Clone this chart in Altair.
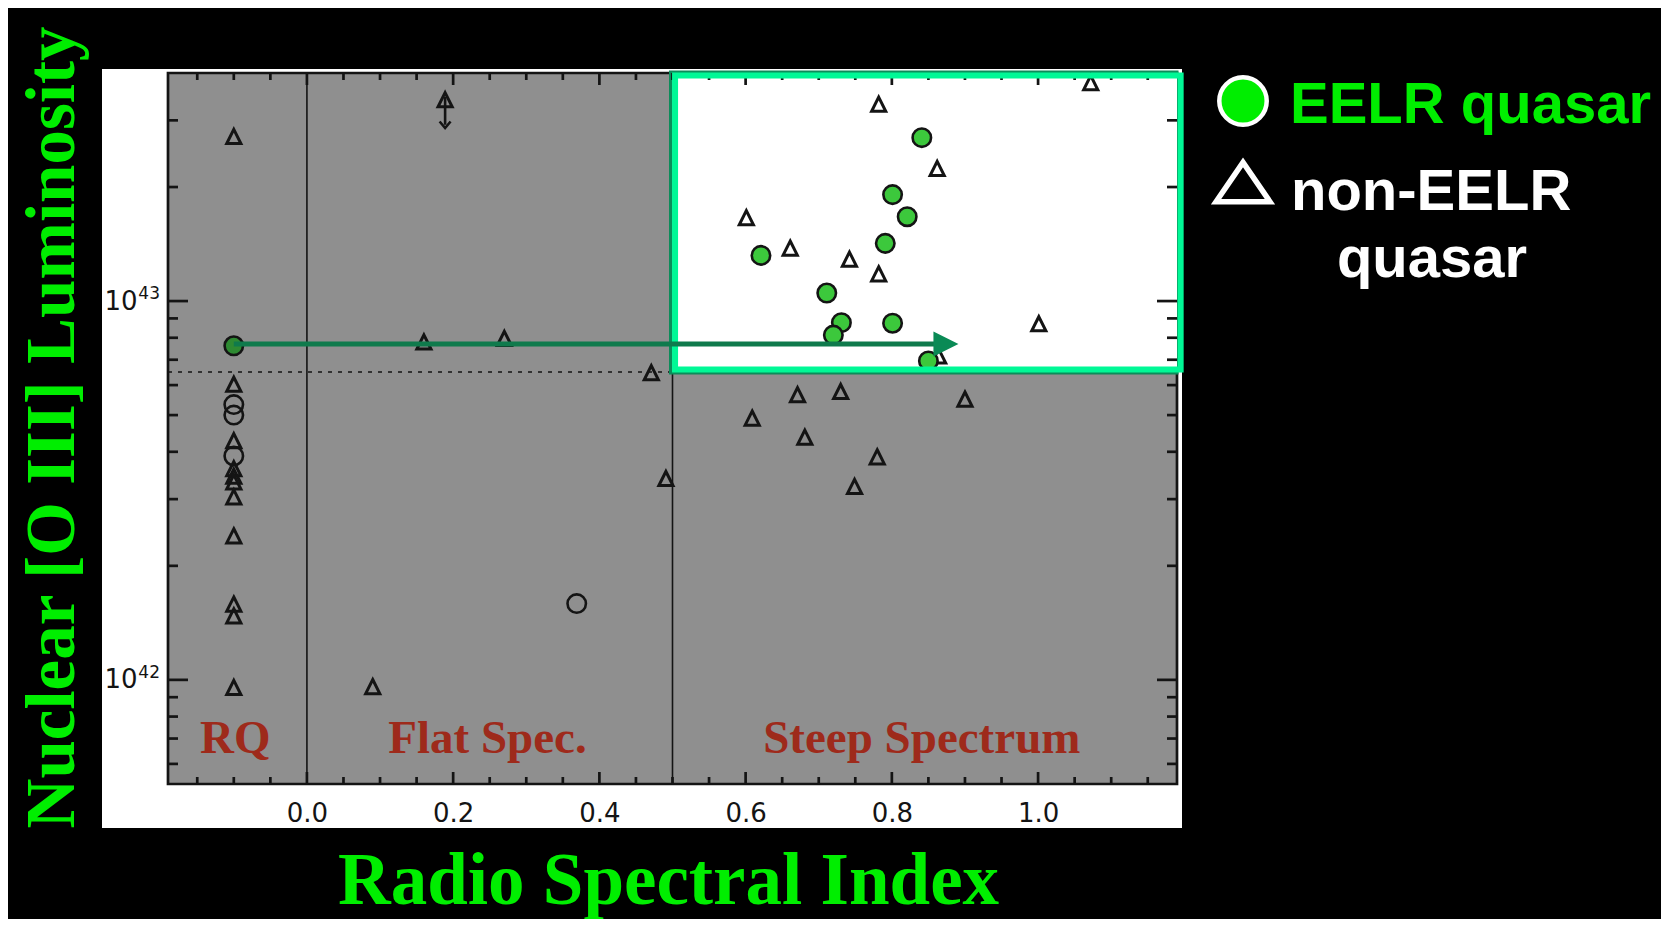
import altair as alt
import pandas as pd

# ---------------- data ----------------
# Radio-quiet column (plotted at alpha = -0.1)
rq_x = -0.1
rq_tri_y = [2.72e43, 6.03e42, 4.28e42, 3.61e42, 3.45e42, 3.33e42, 3.04e42,
            2.40e42, 1.585e42, 1.476e42, 9.55e41]
rq_circ_y = [5.33e42, 5.0e42, 3.9e42]
rq_eelr_y = [7.62e42]

# Flat-spectrum objects
flat_tri_x = [0.189, 0.16, 0.27, 0.471, 0.491, 0.09]
flat_tri_y = [3.40e43, 7.8e42, 7.97e42, 6.47e42, 3.40e42, 9.6e41]
flat_circ_x = [0.369]
flat_circ_y = [1.59e42]

# Steep-spectrum non-EELR quasars
steep_tri_x = [1.072, 0.782, 0.862, 0.601, 0.661, 0.742, 0.782, 1.001, 0.864,
               0.609, 0.671, 0.730, 0.681, 0.780, 0.749, 0.900]
steep_tri_y = [3.77e43, 3.31e43, 2.24e43, 1.66e43, 1.38e43, 1.29e43, 1.18e43,
               8.71e42, 7.16e42, 4.91e42, 5.66e42, 5.77e42, 4.37e42, 3.88e42,
               3.24e42, 5.51e42]

# EELR quasars
eelr_x = [0.841, 0.801, 0.821, 0.791, 0.621, 0.711, 0.731, 0.801, 0.720, 0.850]
eelr_y = [2.70e43, 1.91e43, 1.67e43, 1.42e43, 1.32e43, 1.05e43, 8.77e42,
          8.74e42, 8.13e42, 6.95e42]

# upper/lower limit bar on one flat-spectrum source
limit_x = [0.189]
limit_top = [3.46e43]
limit_bottom = [2.92e43]

# region labels
region_names = ["RQ", "Flat Spec.", "Steep Spectrum"]
region_x = [-0.098, 0.247, 0.841]
region_y = [6.43e41, 6.43e41, 6.43e41]

# dividers, threshold, highlighted region, arrow
divider_x = [0.0, 0.5]
cut_y = 6.5e42
cut_x = [-0.19, 0.5]
box_x = [0.5, 1.19]
box_y = [6.5e42, 4.0e43]
border_x = [0.5035, 1.195]
border_y = [6.6e42, 3.94e43]
arrow_x = [-0.1, 0.86]
arrow_head_x = 0.874
arrow_y = 7.7e42

# axes
x_domain = [-0.19, 1.19]
y_domain = [5.31e41, 4.0e43]
x_major = [0.0, 0.2, 0.4, 0.6, 0.8, 1.0]
x_minor = [-0.15, -0.1, -0.05, 0.05, 0.1, 0.15, 0.25, 0.3, 0.35, 0.45, 0.5,
           0.55, 0.65, 0.7, 0.75, 0.85, 0.9, 0.95, 1.05, 1.1, 1.15]
y_major = [1e42, 1e43]
y_major_exp = ["42", "43"]
y_minor = [6e41, 7e41, 8e41, 9e41, 2e42, 3e42, 4e42, 5e42, 6e42, 7e42, 8e42,
           9e42, 2e43, 3e43]

# ---------------- layout / style ----------------
W, H = 1009, 711
GRAY = "#8f8f8f"
INK = "#141414"
GREEN = "#00ee00"
MINT = "#00f896"
DARKMINT = "#0c8c5a"
RED = "#9e2a1b"

xsc = alt.Scale(domain=x_domain, nice=False, zero=False)
ysc = alt.Scale(type="log", domain=y_domain, nice=False)

xax = alt.Axis(values=x_major, format=".1f", ticks=False, tickSize=0, domain=False,
               grid=False, zindex=2, labelFont="DejaVu Sans", labelFontSize=26,
               labelColor=INK, labelPadding=16, labelFlush=False,
               title="Radio Spectral Index", titleFont="Liberation Serif",
               titleFontSize=73, titleFontWeight="bold", titleColor=GREEN,
               titleX=500, titleY=119, titleBaseline="alphabetic",
               titleAlign="center")
yax = alt.Axis(values=y_major, labelExpr="'10'",
               ticks=False, tickSize=0, domain=False, grid=False, zindex=2,
               labelFont="DejaVu Sans", labelFontSize=26, labelColor=INK,
               labelPadding=31, labelBaseline="middle",
               title="Nuclear [O III] Luminosity", titleFont="Liberation Serif",
               titleFontSize=69, titleFontWeight="bold", titleColor=GREEN,
               titleAngle=270, titleX=-95, titleY=354,
               titleBaseline="alphabetic", titleAlign="center")


def X(f="x"):
    return alt.X(f"{f}:Q", scale=xsc, axis=xax)


def Y(f="y"):
    return alt.Y(f"{f}:Q", scale=ysc, axis=yax)


one = alt.Data(values=[{}])

# figure (white) background and gray plotting box
fig_bg = alt.Chart(one).mark_rect(fill="white").encode(
    x=alt.value(-66), x2=alt.value(1014), y=alt.value(-4), y2=alt.value(755))
frame = alt.Chart(one).mark_rect(fill=GRAY, stroke=INK, strokeWidth=2.7).encode(
    x=alt.value(0), x2=alt.value(W), y=alt.value(0), y2=alt.value(H))

# exponents of the y tick labels (10^42, 10^43)
exps = alt.Chart(pd.DataFrame({"y": y_major, "t": y_major_exp})).mark_text(
    font="DejaVu Sans", fontSize=17, color=INK, align="right",
    baseline="alphabetic", dy=-2).encode(x=alt.value(-8), y=Y(), text="t:N")

dividers = alt.Chart(pd.DataFrame({"x": divider_x})).mark_rule(
    color=INK, strokeWidth=1.6).encode(x=X(), y=alt.value(0), y2=alt.value(H))

cut = alt.Chart(pd.DataFrame({"x": [cut_x[0]], "x2": [cut_x[1]], "y": [cut_y]})).mark_rule(
    color=INK, strokeWidth=1.5, strokeDash=[4, 6]).encode(x=X(), x2="x2:Q", y=Y())

box_df = pd.DataFrame({"x": [box_x[0]], "x2": [box_x[1]],
                       "y": [box_y[0]], "y2": [box_y[1]]})
box_shadow = alt.Chart(box_df).mark_rect(
    fillOpacity=0, stroke=DARKMINT, strokeWidth=5, xOffset=-1, x2Offset=-1).encode(
    x=X(), x2="x2:Q", y=Y(), y2="y2:Q")
box_fill = alt.Chart(box_df).mark_rect(fill="white").encode(
    x=X(), x2="x2:Q", y=Y(), y2="y2:Q")
border_df = pd.DataFrame({"x": [border_x[0]], "x2": [border_x[1]],
                          "y": [border_y[0]], "y2": [border_y[1]]})
box_border = alt.Chart(border_df).mark_rect(
    fillOpacity=0, stroke=MINT, strokeWidth=6).encode(
    x=X(), x2="x2:Q", y=Y(), y2="y2:Q")

# inward ticks on all four sides
def xticks(vals, ln):
    d = pd.DataFrame({"x": vals})
    b = alt.Chart(d).mark_rule(color=INK, strokeWidth=2.7).encode(
        x=X(), y=alt.value(H), y2=alt.value(H - ln))
    t = alt.Chart(d).mark_rule(color=INK, strokeWidth=2.7).encode(
        x=X(), y=alt.value(0), y2=alt.value(ln))
    return [b, t]


def yticks(vals, ln):
    d = pd.DataFrame({"y": vals})
    l = alt.Chart(d).mark_rule(color=INK, strokeWidth=2.7).encode(
        y=Y(), x=alt.value(0), x2=alt.value(ln))
    r = alt.Chart(d).mark_rule(color=INK, strokeWidth=2.7).encode(
        y=Y(), x=alt.value(W), x2=alt.value(W - ln))
    return [l, r]


ticks = xticks(x_major, 12) + xticks(x_minor, 7) + yticks(y_major, 20) + yticks(y_minor, 10)

regions = alt.Chart(pd.DataFrame({"x": region_x, "y": region_y, "t": region_names})).mark_text(
    font="Liberation Serif", fontSize=47, fontWeight="bold", color=RED, align="center",
    baseline="alphabetic").encode(x=X(), y=Y(), text="t:N")

TRI = "M0,-1L1,1L-1,1Z"
tri_df = pd.DataFrame({
    "x": [rq_x] * len(rq_tri_y) + flat_tri_x + steep_tri_x,
    "y": rq_tri_y + flat_tri_y + steep_tri_y,
})
triangles = alt.Chart(tri_df).mark_point(
    shape=TRI, filled=False, stroke=INK, strokeWidth=3, size=200, opacity=1).encode(
    x=X(), y=Y())

circ_df = pd.DataFrame({"x": [rq_x] * len(rq_circ_y) + flat_circ_x,
                        "y": rq_circ_y + flat_circ_y})
open_circles = alt.Chart(circ_df).mark_point(
    shape="circle", filled=False, stroke=INK, strokeWidth=2.6, size=340, opacity=1).encode(
    x=X(), y=Y())

lim_df = pd.DataFrame({"x": limit_x, "y": limit_top, "y2": limit_bottom})
limit_bar = alt.Chart(lim_df).mark_rule(color=INK, strokeWidth=2.6).encode(
    x=X(), y=Y(), y2="y2:Q")
limit_head = alt.Chart(pd.DataFrame({"x": limit_x, "y": limit_bottom})).mark_point(
    shape="M-1,-0.6L0,0.6L1,-0.6", filled=False, stroke=INK, strokeWidth=2.6,
    size=120, opacity=1).encode(x=X(), y=Y())

eelr = alt.Chart(pd.DataFrame({"x": eelr_x, "y": eelr_y})).mark_point(
    shape="circle", filled=True, fill="#3cc83c", stroke=INK, strokeWidth=2.6,
    size=340, opacity=1).encode(x=X(), y=Y())
rq_eelr = alt.Chart(pd.DataFrame({"x": [rq_x], "y": rq_eelr_y})).mark_point(
    shape="circle", filled=True, fill="#2e8a32", stroke=INK, strokeWidth=2.6,
    size=340, opacity=1).encode(x=X(), y=Y())

arrow_line = alt.Chart(pd.DataFrame({"x": [arrow_x[0]], "x2": [arrow_x[1]], "y": [arrow_y]})).mark_rule(
    color="#0f7a4c", strokeWidth=5).encode(x=X(), x2="x2:Q", y=Y())
arrow_head = alt.Chart(pd.DataFrame({"x": [arrow_head_x], "y": [arrow_y]})).mark_point(
    shape="M-1,-1L1,0L-1,1Z", filled=True, fill="#0a8a55", strokeWidth=0,
    size=625, opacity=1).encode(x=X(), y=Y())

# hand-drawn legend on the right
leg_circle = alt.Chart(one).mark_point(
    shape="circle", filled=True, fill=GREEN, stroke="white", strokeWidth=4.5,
    size=2250, opacity=1).encode(x=alt.value(1075), y=alt.value(28))
leg_tri = alt.Chart(one).mark_point(
    shape="M0,-0.73L1,0.73L-1,0.73Z", filled=False, stroke="white", strokeWidth=5.5,
    size=2900, opacity=1).encode(x=alt.value(1075), y=alt.value(109))
leg_t1 = alt.Chart(one).mark_text(
    text="EELR quasar", font="Liberation Sans", fontWeight="bold", fontSize=58,
    color=GREEN, align="left", baseline="alphabetic").encode(
    x=alt.value(1122), y=alt.value(50))
leg_t2 = alt.Chart(one).mark_text(
    text="non-EELR", font="Liberation Sans", fontWeight="bold", fontSize=58,
    color="white", align="left", baseline="alphabetic").encode(
    x=alt.value(1123), y=alt.value(137))
leg_t3 = alt.Chart(one).mark_text(
    text="quasar", font="Liberation Sans", fontWeight="bold", fontSize=58,
    color="white", align="center", baseline="alphabetic").encode(
    x=alt.value(1264), y=alt.value(204))

layers = ([fig_bg, frame, exps, dividers, cut, box_shadow, box_fill] + ticks +
          [regions, triangles, open_circles, limit_bar, limit_head, eelr, rq_eelr,
           box_border, arrow_line, arrow_head,
           leg_circle, leg_tri, leg_t1, leg_t2, leg_t3])

chart = alt.layer(*layers).properties(
    width=W, height=H,
    padding={"left": 160, "top": 65, "right": 484, "bottom": 135},
    autosize=alt.AutoSizeParams(type="none"),
    background="black",
).configure_view(stroke=None)

chart.save("out.html", embed_options={"renderer": "svg", "actions": False})
